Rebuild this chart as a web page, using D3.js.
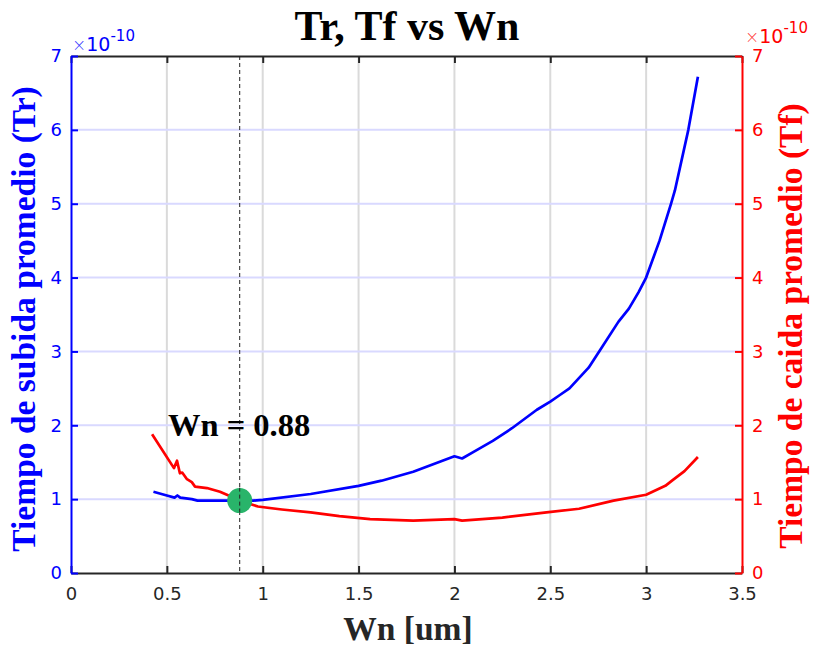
<!DOCTYPE html>
<html><head><meta charset="utf-8">
<script src="https://cdn.jsdelivr.net/npm/d3@7"></script>
<style>body{margin:0;background:#fff}svg{display:block}</style>
</head><body>
<script>
// Data (values in units of 1e-10 s)
const trWn = [0.43,0.50,0.54,0.555,0.57,0.60,0.63,0.66,0.70,0.80,0.88,0.95,1.00,1.25,1.50,1.62,1.785,2.00,2.04,2.10,2.20,2.30,2.43,2.50,2.55,2.60,2.70,2.755,2.855,2.91,2.96,3.00,3.07,3.13,3.15,3.22,3.27];
const trVal = [1.10,1.05,1.02,1.05,1.02,1.01,1.00,0.98,0.98,0.98,0.98,0.98,0.99,1.07,1.18,1.25,1.37,1.58,1.55,1.64,1.79,1.96,2.21,2.32,2.41,2.50,2.78,3.00,3.40,3.58,3.80,4.00,4.50,5.00,5.18,6.00,6.72];
const tfWn = [0.423,0.537,0.553,0.568,0.58,0.605,0.63,0.647,0.709,0.777,0.84,0.88,0.975,1.10,1.25,1.40,1.56,1.785,2.00,2.04,2.25,2.48,2.65,2.83,3.00,3.10,3.14,3.20,3.27];
const tfVal = [1.88,1.42,1.52,1.35,1.36,1.27,1.23,1.17,1.15,1.10,1.03,0.98,0.90,0.86,0.82,0.77,0.73,0.71,0.73,0.71,0.75,0.82,0.87,0.98,1.06,1.18,1.26,1.38,1.57];
const xTicks = [0,0.5,1,1.5,2,2.5,3,3.5];
const yTicks = [0,1,2,3,4,5,6,7];
const optWn = 0.88, optT = 0.98;
const titleText = "Tr, Tf vs Wn";
const xLabel = "Wn [um]";
const yLabelL = "Tiempo de subida promedio (Tr)";
const yLabelR = "Tiempo de caida promedio (Tf)";
const annot = "Wn = 0.88";

(function(){
const W = 815, H = 648;
const m = {l:71, r:742, t:56, b:573};
const svg = d3.select("body").append("svg").attr("width",W).attr("height",H);
const x = d3.scaleLinear().domain([0,3.5]).range([m.l,m.r]);
const yL = d3.scaleLinear().domain([0,7]).range([m.b,m.t]);
const yR = d3.scaleLinear().domain([0,7]).range([m.b,m.t]);

// grid
const g = svg.append("g");
g.selectAll(".vg").data(xTicks.slice(1,-1)).enter().append("line")
 .attr("x1",d=>x(d)).attr("x2",d=>x(d)).attr("y1",m.t).attr("y2",m.b)
 .attr("stroke","#dadada").attr("stroke-width",2);
g.selectAll(".hg").data(yTicks.slice(1,-1)).enter().append("line")
 .attr("y1",d=>yL(d)).attr("y2",d=>yL(d)).attr("x1",m.l).attr("x2",m.r)
 .attr("stroke","#d9d9ff").attr("stroke-width",2);

// axes
const fontT = "DejaVu Sans, sans-serif";
const axB = d3.axisBottom(x).tickValues(xTicks).tickSizeInner(-7).tickSizeOuter(0).tickPadding(14).tickFormat(d3.format("~g"));
const axT = d3.axisTop(x).tickValues(xTicks).tickSizeInner(-7).tickSizeOuter(0).tickFormat("");
const axL = d3.axisLeft(yL).tickValues(yTicks).tickSizeInner(-7).tickSizeOuter(0).tickPadding(9).tickFormat(d3.format("d"));
const axR = d3.axisRight(yR).tickValues(yTicks).tickSizeInner(-7).tickSizeOuter(0).tickPadding(10).tickFormat(d3.format("d"));

function styleAxis(sel,color,fs){
  sel.select(".domain").attr("stroke",color).attr("stroke-width",2);
  sel.selectAll(".tick line").attr("stroke",color).attr("stroke-width",2);
  sel.selectAll(".tick text").attr("fill",color).style("font-family",fontT).style("font-size",fs+"px");
}
const gb = svg.append("g").attr("transform",`translate(0,${m.b})`).call(axB);
styleAxis(gb,"#262626",18);
const gt = svg.append("g").attr("transform",`translate(0,${m.t})`).call(axT);
styleAxis(gt,"#262626",18);
const gl = svg.append("g").attr("transform",`translate(${m.l},0)`).call(axL);
styleAxis(gl,"#0000ff",18);
const gr = svg.append("g").attr("transform",`translate(${m.r},0)`).call(axR);
styleAxis(gr,"#ff0000",18);

// dashed line
svg.append("line").attr("x1",x(optWn)).attr("x2",x(optWn)).attr("y1",m.t).attr("y2",m.b)
 .attr("stroke","#222").attr("stroke-width",1).attr("stroke-dasharray","4,3");

// curves
const lineL = d3.line().x(d=>x(d[0])).y(d=>yL(d[1]));
const lineR = d3.line().x(d=>x(d[0])).y(d=>yR(d[1]));
svg.append("path").datum(tfWn.map((w,i)=>[w,tfVal[i]])).attr("d",lineR)
 .attr("fill","none").attr("stroke","#ff0000").attr("stroke-width",2.7).attr("stroke-linejoin","round");
svg.append("path").datum(trWn.map((w,i)=>[w,trVal[i]])).attr("d",lineL)
 .attr("fill","none").attr("stroke","#0000ff").attr("stroke-width",2.7).attr("stroke-linejoin","round");

svg.append("circle").attr("cx",x(optWn)).attr("cy",yL(optT)).attr("r",12.5).attr("fill","#29b46a");
svg.append("line").attr("x1",x(optWn)).attr("x2",x(optWn)).attr("y1",yL(optT)-13).attr("y2",yL(optT)+13)
 .attr("stroke","#222").attr("stroke-width",1).attr("stroke-dasharray","4,3");

// texts
const serif = "Liberation Serif, Times New Roman, serif";
svg.append("text").attr("x",407).attr("y",40).attr("text-anchor","middle")
 .style("font-family",serif).style("font-weight","bold").style("font-size","42px").attr("fill","#000").text(titleText);
svg.append("text").attr("x",408).attr("y",640).attr("text-anchor","middle")
 .style("font-family",serif).style("font-weight","bold").style("font-size","33.5px").attr("fill","#262626").text(xLabel);
svg.append("text").attr("transform","translate(35,319) rotate(-90)").attr("text-anchor","middle")
 .style("font-family",serif).style("font-weight","bold").style("font-size","33.5px").attr("fill","#0000ff").text(yLabelL);
svg.append("text").attr("transform","translate(802,326) rotate(-90)").attr("text-anchor","middle")
 .style("font-family",serif).style("font-weight","bold").style("font-size","33.5px").attr("fill","#ff0000").text(yLabelR);
svg.append("text").attr("x",168).attr("y",436)
 .style("font-family",serif).style("font-weight","bold").style("font-size","32.5px").attr("fill","#000").text(annot);

// exponent labels
function expo(xp,yp,color){
  const t = svg.append("text").attr("x",xp).attr("y",yp).attr("fill",color).style("font-family",fontT);
  t.append("tspan").style("font-size","17px").style("font-weight","300").attr("fill-opacity",0.75).text("\u00d7");
  t.append("tspan").style("font-size","19px").text("10");
  t.append("tspan").style("font-size","15px").attr("dy",-10).text("-10");
}
expo(72,51,"#0000ff");
expo(745,43,"#ff0000");
})();
</script>
</body></html>
